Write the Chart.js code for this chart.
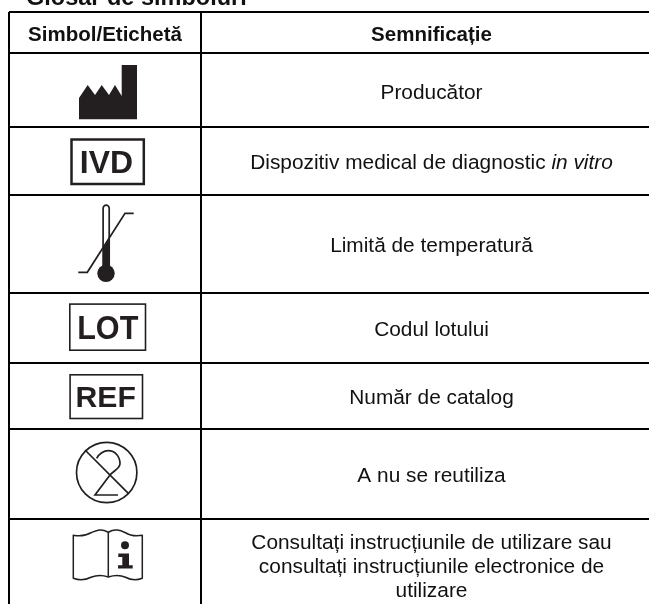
<!DOCTYPE html>
<html lang="ro">
<head>
<meta charset="utf-8">
<style>html,body{margin:0;padding:0;background:#fff}#wrap{width:649px;height:604px;position:relative;overflow:hidden}</style>
<script src="https://cdn.jsdelivr.net/npm/chart.js@4/dist/chart.umd.min.js"></script>
</head>
<body>
<div id="wrap"><canvas id="c" width="649" height="604"></canvas></div>
<script>
const title = 'Glosar de simboluri';
const headers = ['Simbol/Etichetă', 'Semnificație'];
const symbols = ['factory', 'IVD', 'temperature', 'LOT', 'REF', 'noReuse', 'manual'];
const meanings = [
  ['Producător'],
  ['Dispozitiv medical de diagnostic *in vitro*'],
  ['Limită de temperatură'],
  ['Codul lotului'],
  ['Număr de catalog'],
  ['A nu se reutiliza'],
  ['Consultați instrucțiunile de utilizare sau', 'consultați instrucțiunile electronice de', 'utilizare']
];
// Table layout, in pixels from the table's top-left corner
const rowEdges = [0, 41, 115, 182.5, 280.5, 350.5, 416.5, 506.5, 598];
const colEdges = [0, 192, 653];
const TEXT = '#111111', INK = '#231f20';
const SANS = '"Liberation Sans", Arial, sans-serif';

const mid = (a, i) => (a[i] + a[i + 1]) / 2;
const symbolPoints = symbols.map((s, i) => ({ x: mid(colEdges, 0), y: mid(rowEdges, i + 1) }));
const meaningPoints = meanings.map((s, i) => ({ x: mid(colEdges, 1), y: mid(rowEdges, i + 1) }));
const headerPoints = headers.map((s, i) => ({ x: mid(colEdges, i), y: mid(rowEdges, 0) }));

function fitText(ctx, txt, x0, x1, top, base) {
  ctx.save();
  ctx.font = 'bold 100px ' + SANS;
  ctx.textAlign = 'left';
  ctx.textBaseline = 'alphabetic';
  const m = ctx.measureText(txt);
  const w = m.actualBoundingBoxRight + m.actualBoundingBoxLeft;
  const h = 71.6;
  ctx.translate(x0, base);
  ctx.scale((x1 - x0) / w, (base - top) / h);
  ctx.fillStyle = INK;
  ctx.fillText(txt, m.actualBoundingBoxLeft, 0);
  ctx.restore();
}
function poly(ctx, pts) {
  ctx.beginPath();
  pts.forEach((p, i) => i ? ctx.lineTo(p[0], p[1]) : ctx.moveTo(p[0], p[1]));
  ctx.closePath();
  ctx.fill();
}
const draw = {
  factory(ctx) {
    poly(ctx, [[-26,29.3],[-26,8],[-17.3,-5],[-10,5],[-3.3,-5],[4,5],[10,-5],[16.7,6],[16.7,-25],[32,-25],[32,29.3]]);
  },
  IVD(ctx) {
    ctx.lineWidth = 2.5;
    ctx.strokeRect(-33.5, -21.25, 72.3, 44.5);
    fitText(ctx, 'IVD', -23.3, 27, -10, 12.6);
  },
  temperature(ctx) {
    ctx.lineWidth = 1.7;
    ctx.beginPath();
    ctx.moveTo(-26.7, 28.8); ctx.lineTo(-17.7, 28.8); ctx.lineTo(20, -30.2); ctx.lineTo(28.7, -30.2);
    ctx.stroke();
    ctx.beginPath();
    ctx.moveTo(-1.9, 25); ctx.lineTo(-1.9, -35.3);
    ctx.arc(1.15, -35.3, 3.05, Math.PI, 0);
    ctx.lineTo(4.2, 25);
    ctx.stroke();
    poly(ctx, [[-1.9,4.07],[4.2,-5.5],[4.2,25],[-1.9,25]]);
    ctx.beginPath();
    ctx.arc(1, 29.8, 8.7, 0, Math.PI * 2);
    ctx.fill();
  },
  LOT(ctx) {
    ctx.lineWidth = 1.6;
    ctx.strokeRect(-35.2, -23.4, 75.7, 46.1);
    fitText(ctx, 'LOT', -26, 33.3, -11.8, 11.8);
  },
  REF(ctx) {
    ctx.lineWidth = 1.6;
    ctx.strokeRect(-34.9, -20.7, 72.4, 43.7);
    fitText(ctx, 'REF', -27.7, 30, -8.8, 11.8);
  },
  noReuse(ctx) {
    ctx.lineWidth = 1.7;
    ctx.beginPath();
    ctx.arc(1.7, -1, 30.2, 0, Math.PI * 2);
    ctx.moveTo(-20, -23.5); ctx.lineTo(23.3, 19.8);
    ctx.moveTo(-8.3, -15.2);
    ctx.bezierCurveTo(-6, -20, -1, -22.8, 3.3, -22.8);
    ctx.bezierCurveTo(10, -22.8, 15, -17, 15, -10);
    ctx.bezierCurveTo(15, -5, 9, -3, 5, 1.5);
    ctx.lineTo(-10, 21.5); ctx.lineTo(13, 21.5);
    ctx.stroke();
  },
  manual(ctx) {
    ctx.lineWidth = 1.5;
    ctx.lineJoin = 'round';
    ctx.beginPath();
    ctx.moveTo(3.3, -32);
    ctx.bezierCurveTo(-4, -36, -8, -34, -14, -31.5);
    ctx.bezierCurveTo(-20, -28, -26, -28, -31.7, -29);
    ctx.lineTo(-31.7, 14);
    ctx.bezierCurveTo(-25, 16.5, -20, 16, -14, 13);
    ctx.bezierCurveTo(-8, 10.5, -3, 10.5, 3.3, 12.7);
    ctx.bezierCurveTo(10, 10.5, 15, 10.5, 20.5, 13);
    ctx.bezierCurveTo(26, 16, 31, 16.5, 37.3, 14);
    ctx.lineTo(37.3, -29);
    ctx.bezierCurveTo(31, -28, 26, -28, 20.5, -31.5);
    ctx.bezierCurveTo(15, -34, 10, -36, 3.3, -32);
    ctx.lineTo(3.3, 12.7);
    ctx.stroke();
    ctx.beginPath();
    ctx.arc(20, -19, 4, 0, Math.PI * 2);
    ctx.fill();
    poly(ctx, [[13.3,-10.7],[24,-10.7],[24,1],[27.7,1],[27.7,4.3],[13,4.3],[13,1],[17.3,1],[17.3,-7.3],[13.3,-7.3]]);
  }
};

function drawRuns(ctx, line, cx, y, size) {
  const runs = line.split('*').filter(r => r !== '').map(r => ({ t: r, it: line.includes('*' + r + '*') }));
  const fontOf = r => (r.it ? 'italic ' : '') + size + 'px ' + SANS;
  let total = 0;
  runs.forEach(r => { ctx.font = fontOf(r); r.w = ctx.measureText(r.t).width; total += r.w; });
  let x = cx - total / 2;
  runs.forEach(r => { ctx.font = fontOf(r); ctx.fillText(r.t, x, y); x += r.w; });
}

const tablePlugin = {
  id: 'glossaryTable',
  afterDatasetsDraw(chart) {
    const ctx = chart.ctx;
    const [symMeta, meanMeta, headMeta] = [0, 1, 2].map(i => chart.getDatasetMeta(i).data);
    ctx.save();
    ctx.fillStyle = TEXT;
    ctx.textAlign = 'left';
    ctx.textBaseline = 'alphabetic';
    ctx.font = 'bold 23.5px ' + SANS;
    ctx.fillText(title, 26, 5);

    ctx.textAlign = 'center';
    ctx.font = 'bold 20.5px ' + SANS;
    headMeta.forEach((p, i) => ctx.fillText(headers[i], p.x, p.y + 8));

    ctx.textAlign = 'left';
    const LINE = 24;
    meanMeta.forEach((p, i) => {
      const lines = meanings[i];
      lines.forEach((ln, k) => drawRuns(ctx, ln, p.x, p.y + 8.5 + (k - (lines.length - 1) / 2) * LINE, 20.85));
    });

    ctx.fillStyle = INK; ctx.strokeStyle = INK;
    ctx.filter = 'blur(0.35px)';
    symMeta.forEach((p, i) => {
      ctx.save();
      ctx.translate(p.x, p.y);
      draw[symbols[i]](ctx);
      ctx.restore();
    });
    ctx.restore();
  }
};

new Chart(document.getElementById('c'), {
  type: 'scatter',
  data: { datasets: [
    { label: 'symbols', data: symbolPoints, pointRadius: 0 },
    { label: 'meanings', data: meaningPoints, pointRadius: 0 },
    { label: 'headers', data: headerPoints, pointRadius: 0 }
  ] },
  options: {
    responsive: false,
    animation: false,
    events: [],
    layout: { padding: { left: 9, top: 12, right: 0, bottom: 0 } },
    plugins: { legend: { display: false }, title: { display: false }, tooltip: { enabled: false } },
    scales: {
      x: {
        type: 'linear', min: 0, max: 640,
        afterBuildTicks: s => { s.ticks = colEdges.filter(v => v <= 640).map(value => ({ value })); },
        ticks: { display: false }, border: { display: false },
        grid: { color: '#000', lineWidth: 2, drawTicks: false }
      },
      y: {
        type: 'linear', min: 0, max: 592, reverse: true,
        afterBuildTicks: s => { s.ticks = rowEdges.filter(v => v <= 592).map(value => ({ value })); },
        ticks: { display: false }, border: { display: false },
        grid: { color: '#000', lineWidth: 2, drawTicks: false }
      }
    }
  },
  plugins: [tablePlugin]
});
</script>
</body>
</html>
